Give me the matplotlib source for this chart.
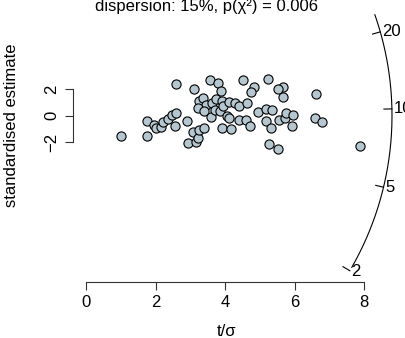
import numpy as np
import matplotlib
matplotlib.use("Agg")
import matplotlib.pyplot as plt

plt.rcParams['font.family'] = ['Liberation Sans', 'DejaVu Sans']

# precision (t/sigma) of each grain
precision = [1.01, 1.75, 1.75, 1.96, 2.01, 2.17, 2.20, 2.37, 2.47, 2.58,
             2.57, 2.58, 2.89, 3.10, 3.08, 2.92, 3.16, 3.23, 3.26, 3.39,
             3.25, 3.36, 3.44, 3.21, 3.39, 3.59, 3.62, 3.56, 3.79, 3.87,
             3.74, 3.71, 3.85, 3.92, 3.95, 4.04, 4.10, 4.10, 3.90, 4.16,
             4.27, 4.40, 4.64, 4.39, 4.59, 4.71, 4.50, 4.82, 4.73, 5.23,
             5.65, 5.53, 5.65, 4.95, 5.17, 5.36, 5.17, 5.33, 5.55, 5.71,
             5.76, 5.94, 5.93, 5.25, 5.53, 6.60, 6.58, 6.77, 7.88]
# standardised estimate of each grain
std_est = [-1.52, -1.54, -0.40, -0.71, -0.96, -0.82, -0.48, -0.25, 0.02, 0.17,
           -0.80, 2.38, -0.42, 2.00, -1.24, -2.07, -2.00, -1.69, -1.08, -0.97,
           1.15, 1.32, 0.81, 0.55, 0.38, -0.12, 1.00, 2.71, 2.50, 1.90,
           1.23, 0.47, 0.36, 1.15, 0.77, -0.02, -0.21, 1.06, -0.97, -1.01,
           0.96, 0.74, 1.00, -0.29, -0.36, -0.78, 2.71, 2.20, 1.82, 2.82,
           2.20, 2.00, 1.40, 0.28, 0.49, 0.43, -0.38, -0.90, -0.35, -0.20,
           0.20, 0.04, -0.76, -2.16, -2.51, 1.65, -0.14, -0.48, -2.30]

central_t = 9.43
arc_ticks = [2, 5, 10, 20]
x_ticks = [0, 2, 4, 6, 8]
y_ticks = [-2, 0, 2]
y_ticklabels = ['\u22122', '0', '2']
title = 'dispersion: 15%, p(\u03c7\u00b2) = 0.006'

W, H = 406, 338
fig = plt.figure(figsize=(W / 100, H / 100), dpi=100)
ax = fig.add_axes([0, 0, 1, 1])

# layout in pixels: x=0 at 86px, x=8 at 364px, y=0 at 115.7px
sx = (364.3 - 86) / 8
sy = 13.18
ax.set_xlim(-86 / sx, (W - 86) / sx)
ax.set_ylim(-(H - 115.7) / sy, 115.7 / sy)

fs = 12
ink = '#333333'

# radial scale (circle in screen space)
R = 306


def arc_xy(t, rad):
    phi = np.arctan((np.log(t) - np.log(central_t)) * sy / sx)
    return rad * np.cos(phi) / sx, rad * np.sin(phi) / sy


slopes = np.array(std_est) / np.array(precision)
tmin = central_t * np.exp(slopes.min())
tmax = central_t * np.exp(slopes.max())
tt = np.exp(np.linspace(np.log(tmin), np.log(tmax), 300))
ax_, ay_ = arc_xy(tt, R)
ax.plot(ax_, ay_, color='black', lw=0.8)
for t in arc_ticks:
    x0, y0 = arc_xy(t, R - 8)
    x1, y1 = arc_xy(t, R)
    ax.plot([x0, x1], [y0, y1], color='black', lw=0.8)
    xl, yl = arc_xy(t, R + 2)
    ax.text(xl, yl, str(t), ha='left', va='center', fontsize=fs)

ax.scatter(precision, std_est, s=6.6 ** 2, c='#b4c6cf', edgecolors='black',
           linewidths=0.8, zorder=3)

# axes
for s in ['top', 'right']:
    ax.spines[s].set_visible(False)
ax.spines['left'].set_position(('data', (73 - 86) / sx))
ax.spines['left'].set_bounds(-2, 2)
ax.spines['bottom'].set_position(('data', (115.7 - 281.7) / sy))
ax.spines['bottom'].set_bounds(0, 8)
for s in ['left', 'bottom']:
    ax.spines[s].set_color(ink)
    ax.spines[s].set_linewidth(0.8)
ax.set_xticks(x_ticks)
ax.set_xticklabels([str(v) for v in x_ticks])
ax.set_yticks(y_ticks)
ax.set_yticklabels(y_ticklabels, rotation=90, va='center')
ax.tick_params(length=5.8, width=0.8, color=ink, labelsize=fs, pad=4)

ax.text(227 / W, 1 - 331 / H, 't/\u03c3', transform=ax.transAxes,
        ha='center', va='center', fontsize=fs)
ax.text(12 / W, 1 - 125 / H, 'standardised estimate', transform=ax.transAxes,
        ha='center', va='center', rotation=90, fontsize=fs)
ax.text(207 / W, 1 - 10.5 / H, title, transform=ax.transAxes,
        ha='center', va='baseline', fontsize=fs)

fig.savefig('out.png', dpi=100)
